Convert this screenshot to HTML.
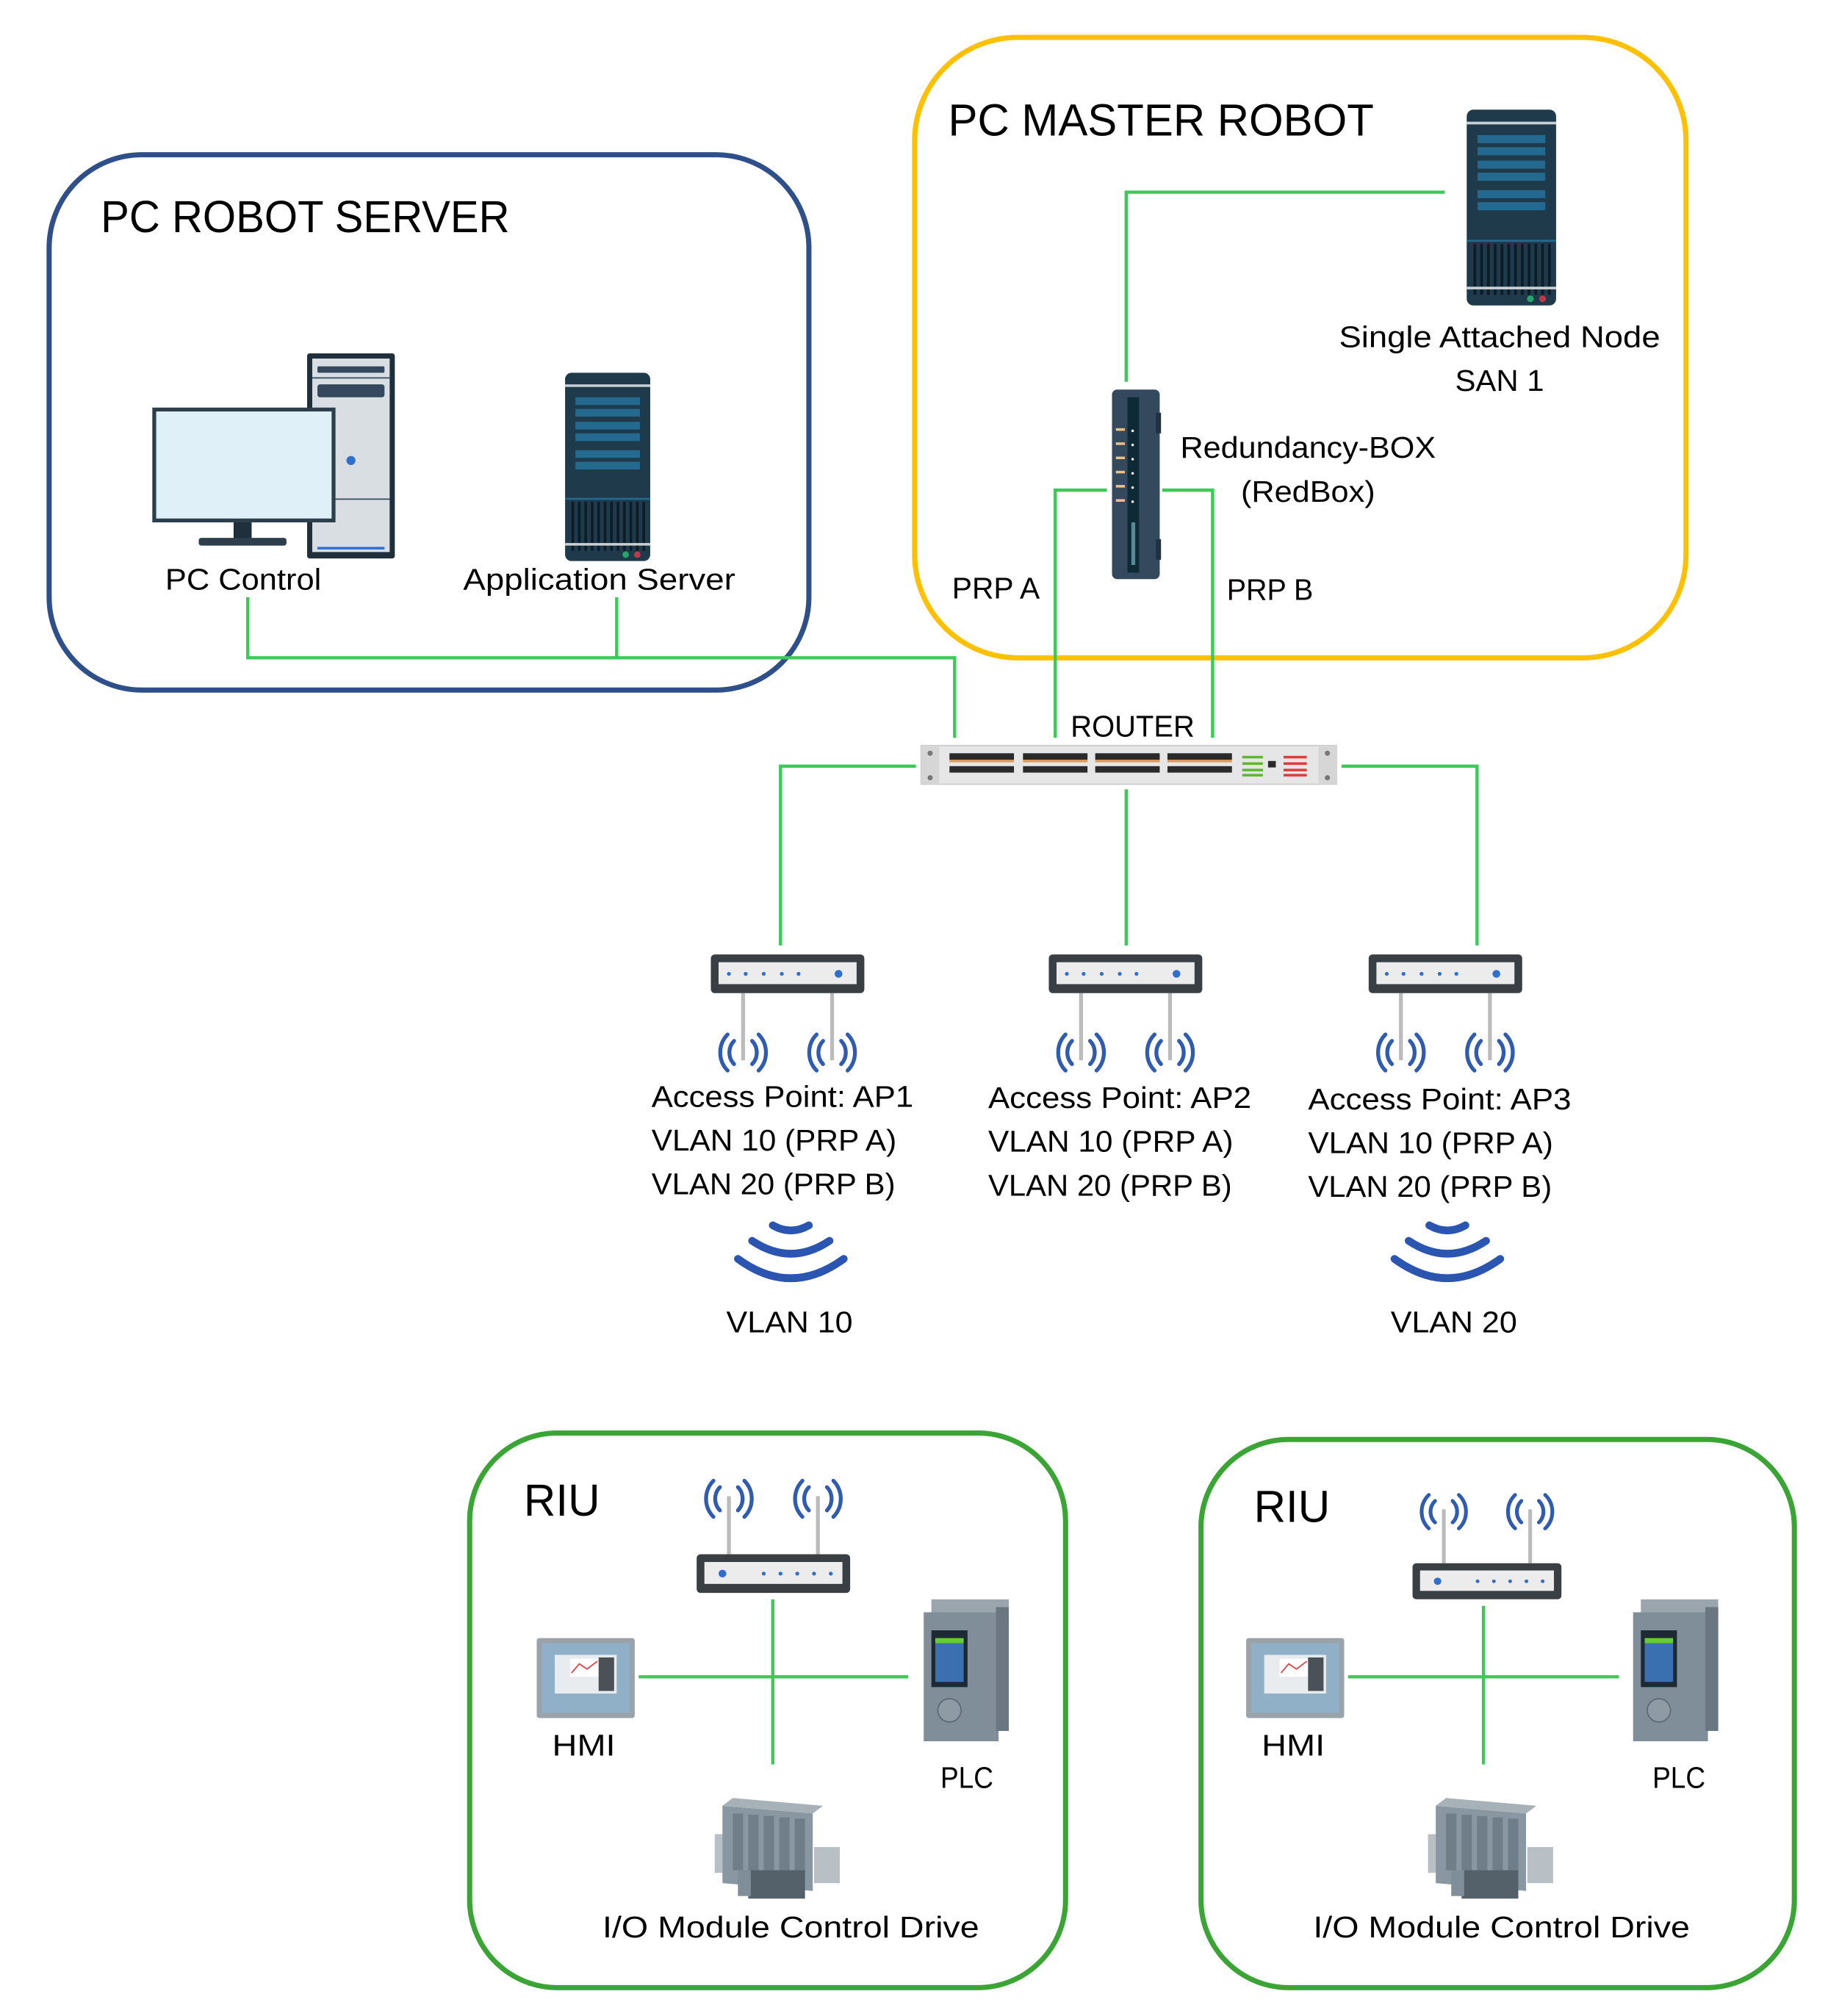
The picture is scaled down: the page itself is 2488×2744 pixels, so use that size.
<!DOCTYPE html>
<html><head><meta charset="utf-8"><style>html,body{margin:0;padding:0;background:#fff}svg{display:block}</style></head>
<body>
<svg width="2488" height="2744" viewBox="0 0 1417 1563" xmlns="http://www.w3.org/2000/svg" font-family="Liberation Sans, sans-serif" fill="#000">
<defs>
<g id="srv">
 <rect x="0" y="0" width="66" height="146" rx="5" fill="#1f3a4a"/>
 <rect x="0" y="9" width="66" height="2" fill="#c8d0d6"/>
 <rect x="8" y="19" width="50" height="6" fill="#24698f"/><rect x="8" y="28" width="50" height="6" fill="#24698f"/>
 <rect x="8" y="38" width="50" height="6" fill="#24698f"/><rect x="8" y="47" width="50" height="6" fill="#24698f"/>
 <rect x="8" y="60" width="50" height="6" fill="#24698f"/><rect x="8" y="69" width="50" height="6" fill="#24698f"/>
 <rect x="0" y="97" width="66" height="1.5" fill="#24698f"/>
 <g stroke="#0c1c26" stroke-width="2"><path d="M6 100v38M11 100v38M16 100v38M21 100v38M26 100v38M31 100v38M36 100v38M41 100v38M46 100v38M51 100v38M56 100v38M61 100v38"/></g>
 <rect x="0" y="132" width="66" height="2" fill="#c8d0d6"/>
 <circle cx="47" cy="141" r="2.5" fill="#2aa36b"/><circle cx="56" cy="141" r="2.5" fill="#c0394b"/>
</g>
<g id="ap">
 <line x1="25" y1="30" x2="25" y2="82" stroke="#bbb" stroke-width="3"/>
 <line x1="94" y1="30" x2="94" y2="82" stroke="#bbb" stroke-width="3"/>
 <rect x="0" y="0" width="119" height="30" rx="3" fill="#3a3f44"/>
 <rect x="6" y="6" width="107" height="17" fill="#ececec"/>
 <g fill="#2f6fd0"><circle cx="14" cy="15" r="1.5"/><circle cx="27" cy="15" r="1.5"/><circle cx="41" cy="15" r="1.5"/><circle cx="55" cy="15" r="1.5"/><circle cx="68" cy="15" r="1.5"/><circle cx="99" cy="15" r="3"/></g>
 <g fill="none" stroke="#2f5bb0" stroke-width="3" stroke-linecap="round">
  <path d="M18 67a13 13 0 0 0 0 18M13 62a20 20 0 0 0 0 28M32 67a13 13 0 0 1 0 18M37 62a20 20 0 0 1 0 28"/>
  <path d="M87 67a13 13 0 0 0 0 18M82 62a20 20 0 0 0 0 28M101 67a13 13 0 0 1 0 18M106 62a20 20 0 0 1 0 28"/>
 </g>
</g>
<g id="apu">
 <line x1="25" y1="0" x2="25" y2="-45" stroke="#bbb" stroke-width="3"/>
 <line x1="94" y1="0" x2="94" y2="-45" stroke="#bbb" stroke-width="3"/>
 <rect x="0" y="0" width="119" height="30" rx="3" fill="#3a3f44"/>
 <rect x="6" y="6" width="107" height="17" fill="#ececec"/>
 <g fill="#2f6fd0"><circle cx="20" cy="15" r="3"/><circle cx="52" cy="15" r="1.5"/><circle cx="65" cy="15" r="1.5"/><circle cx="78" cy="15" r="1.5"/><circle cx="91" cy="15" r="1.5"/><circle cx="104" cy="15" r="1.5"/></g>
 <g fill="none" stroke="#2f5bb0" stroke-width="3" stroke-linecap="round">
  <path d="M18 -52a13 13 0 0 0 0 18M13 -57a20 20 0 0 0 0 28M32 -52a13 13 0 0 1 0 18M37 -57a20 20 0 0 1 0 28"/>
  <path d="M87 -52a13 13 0 0 0 0 18M82 -57a20 20 0 0 0 0 28M101 -52a13 13 0 0 1 0 18M106 -57a20 20 0 0 1 0 28"/>
 </g>
</g>
<g id="hmi">
 <rect x="0" y="0" width="76" height="62" rx="2" fill="#9aa3aa"/>
 <rect x="4" y="4" width="68" height="54" fill="#8fb0c6"/>
 <rect x="14" y="13" width="48" height="30" fill="#e8ecef"/>
 <rect x="26" y="16" width="22" height="14" fill="#fff"/>
 <path d="M27 27l6-7 6 4 8-6" stroke="#d44" fill="none" stroke-width="1"/>
 <rect x="48" y="15" width="12" height="26" fill="#4a5258"/>
</g>
<g id="plc">
 <rect x="6" y="0" width="60" height="14" fill="#9aa5ad"/>
 <rect x="0" y="10" width="58" height="100" fill="#7f8e99"/>
 <rect x="56" y="6" width="10" height="96" fill="#6a7781"/>
 <rect x="6" y="24" width="28" height="44" fill="#1d2a33"/>
 <rect x="9" y="34" width="22" height="30" fill="#3a6fb0"/>
 <rect x="9" y="30" width="22" height="4" fill="#6c3"/>
 <circle cx="20" cy="86" r="9" fill="#8e9ba5" stroke="#5c6a74"/>
</g>
<g id="io">
 <rect x="8" y="30" width="8" height="30" fill="#b9c0c5"/>
 <rect x="85" y="40" width="20" height="28" fill="#b9c0c5"/>
 <path d="M14 8l70 6v60l-70-6z" fill="#8897a1"/>
 <path d="M14 8l8-6 70 6-8 6z" fill="#a7b1b8"/>
 <g fill="#6f7e88"><rect x="22" y="14" width="8" height="44"/><rect x="34" y="15" width="8" height="44"/><rect x="46" y="16" width="8" height="44"/><rect x="58" y="17" width="8" height="44"/><rect x="70" y="18" width="8" height="44"/></g>
 <rect x="34" y="58" width="44" height="22" fill="#55616a"/>
 <rect x="26" y="58" width="10" height="20" fill="#7f8e99"/>
</g>
</defs>

<!-- containers -->
<rect x="38" y="120" width="589" height="415" rx="72" fill="none" stroke="#2f4f8a" stroke-width="4"/>
<rect x="709" y="29" width="598" height="481" rx="80" fill="none" stroke="#ffc000" stroke-width="4"/>
<rect x="364" y="1111" width="462" height="430" rx="68" fill="none" stroke="#3aa535" stroke-width="4"/>
<rect x="931" y="1116" width="460" height="425" rx="68" fill="none" stroke="#3aa535" stroke-width="4"/>

<text x="78" y="180" font-size="35" textLength="317" lengthAdjust="spacingAndGlyphs">PC ROBOT SERVER</text>
<text x="735" y="105" font-size="35" textLength="330" lengthAdjust="spacingAndGlyphs">PC MASTER ROBOT</text>

<!-- connectors -->
<g fill="none" stroke="#3cc95a" stroke-width="2.5">
 <path d="M192 463V510H740V572"/>
 <path d="M478 463V510"/>
 <path d="M1120 149H873V296"/>
 <path d="M858 380H818V572"/>
 <path d="M901 380H940V572"/>
 <path d="M710 594H605V733"/>
 <path d="M873 612V733"/>
 <path d="M1040 594H1145V733"/>
 <path d="M599 1240V1368M495 1300H704"/>
 <path d="M1150 1245V1368M1045 1300H1255"/>
</g>

<!-- PC -->
<rect x="238" y="274" width="68" height="159" rx="2" fill="#1f2f3c"/>
<rect x="242" y="278" width="60" height="150" fill="#d9dee2"/>
<rect x="246" y="284" width="52" height="5" rx="1" fill="#34495e"/>
<rect x="246" y="298" width="52" height="10" rx="2" fill="#34495e"/>
<line x1="242" y1="293" x2="302" y2="293" stroke="#34495e"/>
<line x1="242" y1="387" x2="302" y2="387" stroke="#34495e"/>
<rect x="246" y="424" width="52" height="2" fill="#2f6fd0"/>
<circle cx="272" cy="357" r="3.5" fill="#2f6fd0"/>
<rect x="118" y="316" width="142" height="89" fill="#2d3e4c"/>
<rect x="121" y="319" width="136" height="83" fill="#dff0f9"/>
<rect x="181" y="405" width="14" height="14" fill="#1f2f3c"/>
<rect x="154" y="417" width="68" height="6" rx="2" fill="#2d3e4c"/>
<text x="128" y="457" font-size="23" textLength="121" lengthAdjust="spacingAndGlyphs">PC Control</text>

<use href="#srv" x="438" y="289" transform="translate(438 289) scale(1 1) translate(-438 -289)"/>
<text x="359" y="457" font-size="23" textLength="211" lengthAdjust="spacingAndGlyphs">Application Server</text>

<!-- SAN -->
<g transform="translate(1137 85) scale(1.05 1.04)"><use href="#srv"/></g>
<text x="1038" y="269" font-size="23" textLength="249" lengthAdjust="spacingAndGlyphs">Single Attached Node</text>
<text x="1128" y="303" font-size="23" textLength="69" lengthAdjust="spacingAndGlyphs">SAN 1</text>

<!-- RedBox -->
<rect x="862" y="302" width="37" height="147" rx="4" fill="#34495e"/>
<rect x="896" y="320" width="4" height="16" fill="#22323f"/><rect x="896" y="418" width="4" height="16" fill="#22323f"/>
<rect x="874" y="308" width="9" height="136" fill="#0e2a36"/>
<g fill="#f0c080"><rect x="865" y="332" width="7" height="2"/><rect x="865" y="343" width="7" height="2"/><rect x="865" y="354" width="7" height="2"/><rect x="865" y="365" width="7" height="2"/><rect x="865" y="376" width="7" height="2"/><rect x="865" y="387" width="7" height="2"/></g>
<g fill="#fff"><circle cx="878" cy="334" r="1"/><circle cx="878" cy="345" r="1"/><circle cx="878" cy="356" r="1"/><circle cx="878" cy="367" r="1"/><circle cx="878" cy="378" r="1"/><circle cx="878" cy="389" r="1"/></g>
<rect x="877" y="405" width="3" height="33" fill="#5a8a96"/>
<text x="915" y="355" font-size="23" textLength="198" lengthAdjust="spacingAndGlyphs">Redundancy-BOX</text>
<text x="962" y="389" font-size="23" textLength="104" lengthAdjust="spacingAndGlyphs">(RedBox)</text>
<text x="738" y="464" font-size="23" textLength="68" lengthAdjust="spacingAndGlyphs">PRP A</text>
<text x="951" y="465" font-size="23" textLength="67" lengthAdjust="spacingAndGlyphs">PRP B</text>
<text x="830" y="571" font-size="23" textLength="96" lengthAdjust="spacingAndGlyphs">ROUTER</text>

<!-- Router -->
<rect x="714" y="578" width="322" height="30" fill="#e6e6e6" stroke="#ccc"/>
<rect x="714" y="578" width="14" height="30" fill="#d6d6d6"/><rect x="1022" y="578" width="14" height="30" fill="#d6d6d6"/>
<circle cx="721" cy="584" r="2" fill="#777"/><circle cx="721" cy="603" r="2" fill="#777"/><circle cx="1029" cy="584" r="2" fill="#777"/><circle cx="1029" cy="603" r="2" fill="#777"/>
<g fill="#2a2a2a">
 <rect x="736" y="584" width="50" height="5"/><rect x="736" y="594" width="50" height="5"/>
 <rect x="793" y="584" width="50" height="5"/><rect x="793" y="594" width="50" height="5"/>
 <rect x="849" y="584" width="50" height="5"/><rect x="849" y="594" width="50" height="5"/>
 <rect x="905" y="584" width="50" height="5"/><rect x="905" y="594" width="50" height="5"/>
 <rect x="983" y="590" width="6" height="5"/>
</g>
<g fill="#d89a5a"><rect x="736" y="589" width="50" height="2"/><rect x="793" y="589" width="50" height="2"/><rect x="849" y="589" width="50" height="2"/><rect x="905" y="589" width="50" height="2"/></g>
<g fill="#5cb82e"><rect x="963" y="586" width="16" height="2"/><rect x="963" y="591" width="16" height="2"/><rect x="963" y="596" width="16" height="2"/><rect x="963" y="600" width="16" height="2"/></g>
<g fill="#e03a3a"><rect x="995" y="586" width="18" height="2"/><rect x="995" y="591" width="18" height="2"/><rect x="995" y="596" width="18" height="2"/><rect x="995" y="600" width="18" height="2"/></g>

<!-- APs -->
<use href="#ap" x="551" y="740"/>
<use href="#ap" x="813" y="740"/>
<use href="#ap" x="1061" y="740"/>
<g font-size="23">
<text x="505" y="858" textLength="203" lengthAdjust="spacingAndGlyphs">Access Point: AP1</text>
<text x="505" y="892" textLength="190" lengthAdjust="spacingAndGlyphs">VLAN 10 (PRP A)</text>
<text x="505" y="926" textLength="189" lengthAdjust="spacingAndGlyphs">VLAN 20 (PRP B)</text>
<text x="766" y="859" textLength="204" lengthAdjust="spacingAndGlyphs">Access Point: AP2</text>
<text x="766" y="893" textLength="190" lengthAdjust="spacingAndGlyphs">VLAN 10 (PRP A)</text>
<text x="766" y="927" textLength="189" lengthAdjust="spacingAndGlyphs">VLAN 20 (PRP B)</text>
<text x="1014" y="860" textLength="204" lengthAdjust="spacingAndGlyphs">Access Point: AP3</text>
<text x="1014" y="894" textLength="190" lengthAdjust="spacingAndGlyphs">VLAN 10 (PRP A)</text>
<text x="1014" y="928" textLength="189" lengthAdjust="spacingAndGlyphs">VLAN 20 (PRP B)</text>
<text x="563" y="1033" textLength="98" lengthAdjust="spacingAndGlyphs">VLAN 10</text>
<text x="1078" y="1033" textLength="98" lengthAdjust="spacingAndGlyphs">VLAN 20</text>
</g>
<g fill="none" stroke="#2a55b0" stroke-width="6" stroke-linecap="round">
 <path d="M572 976q41 30 82 0M583 962q30 20 60 0M599 950q14 8 28 0"/>
 <path d="M1081 976q41 30 82 0M1092 962q30 20 60 0M1108 950q14 8 28 0"/>
</g>

<!-- RIU 1 -->
<text x="406" y="1175" font-size="35" textLength="59" lengthAdjust="spacingAndGlyphs">RIU</text>
<use href="#apu" x="540" y="1205"/>
<use href="#hmi" x="416" y="1270"/>
<use href="#plc" x="716" y="1240"/>
<use href="#io" x="546" y="1392"/>
<text x="428" y="1361" font-size="23" textLength="49" lengthAdjust="spacingAndGlyphs">HMI</text>
<text x="729" y="1386" font-size="23" textLength="41" lengthAdjust="spacingAndGlyphs">PLC</text>
<text x="467" y="1502" font-size="23" textLength="292" lengthAdjust="spacingAndGlyphs">I/O Module Control Drive</text>

<!-- RIU 2 -->
<text x="972" y="1180" font-size="35" textLength="59" lengthAdjust="spacingAndGlyphs">RIU</text>
<g transform="translate(1095 1212) scale(0.97 0.93)"><use href="#apu"/></g>
<use href="#hmi" x="966" y="1270"/>
<use href="#plc" x="1266" y="1240"/>
<use href="#io" x="1099" y="1392"/>
<text x="978" y="1361" font-size="23" textLength="49" lengthAdjust="spacingAndGlyphs">HMI</text>
<text x="1281" y="1386" font-size="23" textLength="41" lengthAdjust="spacingAndGlyphs">PLC</text>
<text x="1018" y="1502" font-size="23" textLength="292" lengthAdjust="spacingAndGlyphs">I/O Module Control Drive</text>
</svg>
</body></html>
